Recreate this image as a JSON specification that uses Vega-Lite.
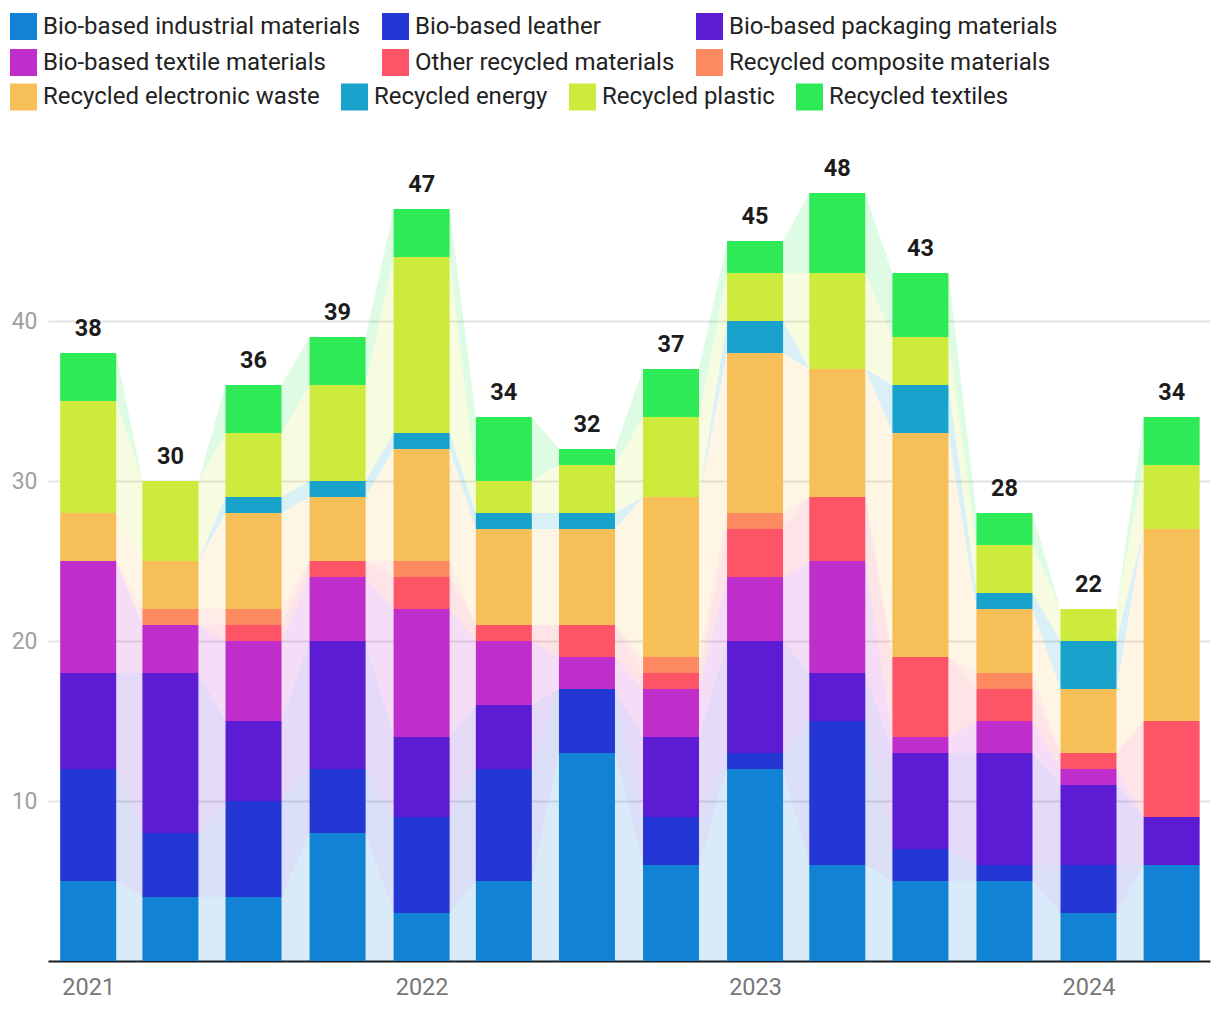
{
  "$schema": "https://vega.github.io/schema/vega-lite/v6.json",
  "width": 1162,
  "height": 768,
  "autosize": {"type": "none"},
  "padding": {"left": 48, "top": 193, "right": 10, "bottom": 57},
  "background": "white",
  "config": {"view": {"stroke": null}, "font": "Roboto"},
  "resolve": {"legend": {"color": "independent"}},
  "data": {"values": [
    {"date": "2021-01-01", "category": "Bio-based industrial materials", "value": 5},
    {"date": "2021-01-01", "category": "Bio-based leather", "value": 7},
    {"date": "2021-01-01", "category": "Bio-based packaging materials", "value": 6},
    {"date": "2021-01-01", "category": "Bio-based textile materials", "value": 7},
    {"date": "2021-01-01", "category": "Other recycled materials", "value": 0},
    {"date": "2021-01-01", "category": "Recycled composite materials", "value": 0},
    {"date": "2021-01-01", "category": "Recycled electronic waste", "value": 3},
    {"date": "2021-01-01", "category": "Recycled energy", "value": 0},
    {"date": "2021-01-01", "category": "Recycled plastic", "value": 7},
    {"date": "2021-01-01", "category": "Recycled textiles", "value": 3},
    {"date": "2021-04-01", "category": "Bio-based industrial materials", "value": 4},
    {"date": "2021-04-01", "category": "Bio-based leather", "value": 4},
    {"date": "2021-04-01", "category": "Bio-based packaging materials", "value": 10},
    {"date": "2021-04-01", "category": "Bio-based textile materials", "value": 3},
    {"date": "2021-04-01", "category": "Other recycled materials", "value": 0},
    {"date": "2021-04-01", "category": "Recycled composite materials", "value": 1},
    {"date": "2021-04-01", "category": "Recycled electronic waste", "value": 3},
    {"date": "2021-04-01", "category": "Recycled energy", "value": 0},
    {"date": "2021-04-01", "category": "Recycled plastic", "value": 5},
    {"date": "2021-04-01", "category": "Recycled textiles", "value": 0},
    {"date": "2021-07-01", "category": "Bio-based industrial materials", "value": 4},
    {"date": "2021-07-01", "category": "Bio-based leather", "value": 6},
    {"date": "2021-07-01", "category": "Bio-based packaging materials", "value": 5},
    {"date": "2021-07-01", "category": "Bio-based textile materials", "value": 5},
    {"date": "2021-07-01", "category": "Other recycled materials", "value": 1},
    {"date": "2021-07-01", "category": "Recycled composite materials", "value": 1},
    {"date": "2021-07-01", "category": "Recycled electronic waste", "value": 6},
    {"date": "2021-07-01", "category": "Recycled energy", "value": 1},
    {"date": "2021-07-01", "category": "Recycled plastic", "value": 4},
    {"date": "2021-07-01", "category": "Recycled textiles", "value": 3},
    {"date": "2021-10-01", "category": "Bio-based industrial materials", "value": 8},
    {"date": "2021-10-01", "category": "Bio-based leather", "value": 4},
    {"date": "2021-10-01", "category": "Bio-based packaging materials", "value": 8},
    {"date": "2021-10-01", "category": "Bio-based textile materials", "value": 4},
    {"date": "2021-10-01", "category": "Other recycled materials", "value": 1},
    {"date": "2021-10-01", "category": "Recycled composite materials", "value": 0},
    {"date": "2021-10-01", "category": "Recycled electronic waste", "value": 4},
    {"date": "2021-10-01", "category": "Recycled energy", "value": 1},
    {"date": "2021-10-01", "category": "Recycled plastic", "value": 6},
    {"date": "2021-10-01", "category": "Recycled textiles", "value": 3},
    {"date": "2022-01-01", "category": "Bio-based industrial materials", "value": 3},
    {"date": "2022-01-01", "category": "Bio-based leather", "value": 6},
    {"date": "2022-01-01", "category": "Bio-based packaging materials", "value": 5},
    {"date": "2022-01-01", "category": "Bio-based textile materials", "value": 8},
    {"date": "2022-01-01", "category": "Other recycled materials", "value": 2},
    {"date": "2022-01-01", "category": "Recycled composite materials", "value": 1},
    {"date": "2022-01-01", "category": "Recycled electronic waste", "value": 7},
    {"date": "2022-01-01", "category": "Recycled energy", "value": 1},
    {"date": "2022-01-01", "category": "Recycled plastic", "value": 11},
    {"date": "2022-01-01", "category": "Recycled textiles", "value": 3},
    {"date": "2022-04-01", "category": "Bio-based industrial materials", "value": 5},
    {"date": "2022-04-01", "category": "Bio-based leather", "value": 7},
    {"date": "2022-04-01", "category": "Bio-based packaging materials", "value": 4},
    {"date": "2022-04-01", "category": "Bio-based textile materials", "value": 4},
    {"date": "2022-04-01", "category": "Other recycled materials", "value": 1},
    {"date": "2022-04-01", "category": "Recycled composite materials", "value": 0},
    {"date": "2022-04-01", "category": "Recycled electronic waste", "value": 6},
    {"date": "2022-04-01", "category": "Recycled energy", "value": 1},
    {"date": "2022-04-01", "category": "Recycled plastic", "value": 2},
    {"date": "2022-04-01", "category": "Recycled textiles", "value": 4},
    {"date": "2022-07-01", "category": "Bio-based industrial materials", "value": 13},
    {"date": "2022-07-01", "category": "Bio-based leather", "value": 4},
    {"date": "2022-07-01", "category": "Bio-based packaging materials", "value": 0},
    {"date": "2022-07-01", "category": "Bio-based textile materials", "value": 2},
    {"date": "2022-07-01", "category": "Other recycled materials", "value": 2},
    {"date": "2022-07-01", "category": "Recycled composite materials", "value": 0},
    {"date": "2022-07-01", "category": "Recycled electronic waste", "value": 6},
    {"date": "2022-07-01", "category": "Recycled energy", "value": 1},
    {"date": "2022-07-01", "category": "Recycled plastic", "value": 3},
    {"date": "2022-07-01", "category": "Recycled textiles", "value": 1},
    {"date": "2022-10-01", "category": "Bio-based industrial materials", "value": 6},
    {"date": "2022-10-01", "category": "Bio-based leather", "value": 3},
    {"date": "2022-10-01", "category": "Bio-based packaging materials", "value": 5},
    {"date": "2022-10-01", "category": "Bio-based textile materials", "value": 3},
    {"date": "2022-10-01", "category": "Other recycled materials", "value": 1},
    {"date": "2022-10-01", "category": "Recycled composite materials", "value": 1},
    {"date": "2022-10-01", "category": "Recycled electronic waste", "value": 10},
    {"date": "2022-10-01", "category": "Recycled energy", "value": 0},
    {"date": "2022-10-01", "category": "Recycled plastic", "value": 5},
    {"date": "2022-10-01", "category": "Recycled textiles", "value": 3},
    {"date": "2023-01-01", "category": "Bio-based industrial materials", "value": 12},
    {"date": "2023-01-01", "category": "Bio-based leather", "value": 1},
    {"date": "2023-01-01", "category": "Bio-based packaging materials", "value": 7},
    {"date": "2023-01-01", "category": "Bio-based textile materials", "value": 4},
    {"date": "2023-01-01", "category": "Other recycled materials", "value": 3},
    {"date": "2023-01-01", "category": "Recycled composite materials", "value": 1},
    {"date": "2023-01-01", "category": "Recycled electronic waste", "value": 10},
    {"date": "2023-01-01", "category": "Recycled energy", "value": 2},
    {"date": "2023-01-01", "category": "Recycled plastic", "value": 3},
    {"date": "2023-01-01", "category": "Recycled textiles", "value": 2},
    {"date": "2023-04-01", "category": "Bio-based industrial materials", "value": 6},
    {"date": "2023-04-01", "category": "Bio-based leather", "value": 9},
    {"date": "2023-04-01", "category": "Bio-based packaging materials", "value": 3},
    {"date": "2023-04-01", "category": "Bio-based textile materials", "value": 7},
    {"date": "2023-04-01", "category": "Other recycled materials", "value": 4},
    {"date": "2023-04-01", "category": "Recycled composite materials", "value": 0},
    {"date": "2023-04-01", "category": "Recycled electronic waste", "value": 8},
    {"date": "2023-04-01", "category": "Recycled energy", "value": 0},
    {"date": "2023-04-01", "category": "Recycled plastic", "value": 6},
    {"date": "2023-04-01", "category": "Recycled textiles", "value": 5},
    {"date": "2023-07-01", "category": "Bio-based industrial materials", "value": 5},
    {"date": "2023-07-01", "category": "Bio-based leather", "value": 2},
    {"date": "2023-07-01", "category": "Bio-based packaging materials", "value": 6},
    {"date": "2023-07-01", "category": "Bio-based textile materials", "value": 1},
    {"date": "2023-07-01", "category": "Other recycled materials", "value": 5},
    {"date": "2023-07-01", "category": "Recycled composite materials", "value": 0},
    {"date": "2023-07-01", "category": "Recycled electronic waste", "value": 14},
    {"date": "2023-07-01", "category": "Recycled energy", "value": 3},
    {"date": "2023-07-01", "category": "Recycled plastic", "value": 3},
    {"date": "2023-07-01", "category": "Recycled textiles", "value": 4},
    {"date": "2023-10-01", "category": "Bio-based industrial materials", "value": 5},
    {"date": "2023-10-01", "category": "Bio-based leather", "value": 1},
    {"date": "2023-10-01", "category": "Bio-based packaging materials", "value": 7},
    {"date": "2023-10-01", "category": "Bio-based textile materials", "value": 2},
    {"date": "2023-10-01", "category": "Other recycled materials", "value": 2},
    {"date": "2023-10-01", "category": "Recycled composite materials", "value": 1},
    {"date": "2023-10-01", "category": "Recycled electronic waste", "value": 4},
    {"date": "2023-10-01", "category": "Recycled energy", "value": 1},
    {"date": "2023-10-01", "category": "Recycled plastic", "value": 3},
    {"date": "2023-10-01", "category": "Recycled textiles", "value": 2},
    {"date": "2024-01-01", "category": "Bio-based industrial materials", "value": 3},
    {"date": "2024-01-01", "category": "Bio-based leather", "value": 3},
    {"date": "2024-01-01", "category": "Bio-based packaging materials", "value": 5},
    {"date": "2024-01-01", "category": "Bio-based textile materials", "value": 1},
    {"date": "2024-01-01", "category": "Other recycled materials", "value": 1},
    {"date": "2024-01-01", "category": "Recycled composite materials", "value": 0},
    {"date": "2024-01-01", "category": "Recycled electronic waste", "value": 4},
    {"date": "2024-01-01", "category": "Recycled energy", "value": 3},
    {"date": "2024-01-01", "category": "Recycled plastic", "value": 2},
    {"date": "2024-01-01", "category": "Recycled textiles", "value": 0},
    {"date": "2024-04-01", "category": "Bio-based industrial materials", "value": 6},
    {"date": "2024-04-01", "category": "Bio-based leather", "value": 0},
    {"date": "2024-04-01", "category": "Bio-based packaging materials", "value": 3},
    {"date": "2024-04-01", "category": "Bio-based textile materials", "value": 0},
    {"date": "2024-04-01", "category": "Other recycled materials", "value": 6},
    {"date": "2024-04-01", "category": "Recycled composite materials", "value": 0},
    {"date": "2024-04-01", "category": "Recycled electronic waste", "value": 12},
    {"date": "2024-04-01", "category": "Recycled energy", "value": 0},
    {"date": "2024-04-01", "category": "Recycled plastic", "value": 4},
    {"date": "2024-04-01", "category": "Recycled textiles", "value": 3}
  ]},
  "layer": [
    {
      "transform": [
        {"fold": ["L", "R"], "as": ["edge", "unused"]},
        {"calculate": "time(datum.date) + (datum.edge == 'L' ? -1 : 1) * 2648160000", "as": "xe"}
      ],
      "mark": {"type": "area", "opacity": 0.16, "interpolate": "linear"},
      "encoding": {
        "x": {"field": "xe", "type": "temporal",
              "scale": {"type": "utc", "padding": 0, "domain": [{"year": 2020, "month": 11, "date": 18, "utc": true}, {"year": 2024, "month": 5, "date": 13, "utc": true}]},
              "axis": {"title": null, "format": "%Y", "tickCount": {"interval": "year", "step": 1}, "ticks": false, "grid": false,
                       "domainColor": "#1a1a1a", "domainWidth": 2, "labelFontSize": 23.5, "labelColor": "#777777", "labelPadding": 14, "labelFlush": false, "labelFont": "Roboto"}},
        "y": {"field": "value", "type": "quantitative", "stack": "zero",
              "scale": {"domain": [0, 48], "nice": false},
              "axis": {"title": null, "values": [10, 20, 30, 40], "domain": false, "ticks": false, "grid": true, "gridColor": "#e3e3e3", "gridWidth": 2,
                       "labelFontSize": 23, "labelColor": "#a0a0a0", "labelPadding": 11, "labelFont": "Roboto"}},
        "order": {"field": "category", "type": "nominal", "sort": "ascending"},
        "color": {"field": "category", "type": "nominal",
                  "scale": {"domain": ["Bio-based industrial materials", "Bio-based leather", "Bio-based packaging materials", "Bio-based textile materials", "Other recycled materials", "Recycled composite materials", "Recycled electronic waste", "Recycled energy", "Recycled plastic", "Recycled textiles"],
                            "range": ["#1283d4", "#2437d4", "#5b1cd3", "#bf2ecb", "#fe5468", "#fe8a62", "#f6bf57", "#18a2cc", "#cceb3d", "#2fea57"]},
                  "legend": {"orient": "none", "legendX": -38, "legendY": -109.5, "direction": "horizontal",
                             "values": ["Recycled electronic waste", "Recycled energy", "Recycled plastic", "Recycled textiles"],
                             "title": null, "symbolType": "square", "symbolSize": 729, "symbolStrokeWidth": 0, "symbolOpacity": 1,
                             "labelFontSize": 24, "labelColor": "#222222", "labelLimit": 600, "labelOffset": 6, "labelFont": "Roboto",
                             "columnPadding": 21, "rowPadding": 9, "padding": 0}}
      }
    },
    {
      "mark": {"type": "bar", "size": 56},
      "encoding": {
        "x": {"field": "date", "type": "temporal",
              "scale": {"type": "utc", "padding": 0, "domain": [{"year": 2020, "month": 11, "date": 18, "utc": true}, {"year": 2024, "month": 5, "date": 13, "utc": true}]},
              "axis": {"title": null, "format": "%Y", "tickCount": {"interval": "year", "step": 1}, "ticks": false, "grid": false,
                       "domainColor": "#1a1a1a", "domainWidth": 2, "labelFontSize": 23.5, "labelColor": "#777777", "labelPadding": 14, "labelFlush": false, "labelFont": "Roboto"}},
        "y": {"field": "value", "type": "quantitative", "stack": "zero",
              "scale": {"domain": [0, 48], "nice": false},
              "axis": {"title": null, "values": [10, 20, 30, 40], "domain": false, "ticks": false, "grid": true, "gridColor": "#e3e3e3", "gridWidth": 2,
                       "labelFontSize": 23, "labelColor": "#a0a0a0", "labelPadding": 11, "labelFont": "Roboto"}},
        "order": {"field": "category", "type": "nominal", "sort": "ascending"},
        "color": {"field": "category", "type": "nominal",
                  "scale": {"domain": ["Bio-based industrial materials", "Bio-based leather", "Bio-based packaging materials", "Bio-based textile materials", "Other recycled materials", "Recycled composite materials", "Recycled electronic waste", "Recycled energy", "Recycled plastic", "Recycled textiles"],
                            "range": ["#1283d4", "#2437d4", "#5b1cd3", "#bf2ecb", "#fe5468", "#fe8a62", "#f6bf57", "#18a2cc", "#cceb3d", "#2fea57"]},
                  "legend": {"orient": "none", "legendX": -38, "legendY": -180, "direction": "horizontal", "columns": 3,
                             "values": ["Bio-based industrial materials", "Bio-based leather", "Bio-based packaging materials", "Bio-based textile materials", "Other recycled materials", "Recycled composite materials"],
                             "title": null, "symbolType": "square", "symbolSize": 729, "symbolStrokeWidth": 0, "symbolOpacity": 1,
                             "labelFontSize": 24, "labelColor": "#222222", "labelLimit": 600, "labelOffset": 6, "labelFont": "Roboto",
                             "columnPadding": 21, "rowPadding": 9, "padding": 0}}
      }
    },
    {
      "transform": [{"aggregate": [{"op": "sum", "field": "value", "as": "total"}], "groupby": ["date"]}],
      "mark": {"type": "text", "fontSize": 23.5, "fontWeight": "bold", "color": "#1c1c1c", "baseline": "alphabetic", "align": "center", "dy": -17, "font": "Roboto"},
      "encoding": {
        "x": {"field": "date", "type": "temporal",
              "axis": {"title": null, "format": "%Y", "tickCount": {"interval": "year", "step": 1}, "ticks": false, "grid": false,
                       "domainColor": "#1a1a1a", "domainWidth": 2, "labelFontSize": 23.5, "labelColor": "#777777", "labelPadding": 14, "labelFlush": false, "labelFont": "Roboto"}},
        "y": {"field": "total", "type": "quantitative",
              "axis": {"title": null, "values": [10, 20, 30, 40], "domain": false, "ticks": false, "grid": true, "gridColor": "#e3e3e3", "gridWidth": 2,
                       "labelFontSize": 23, "labelColor": "#a0a0a0", "labelPadding": 11, "labelFont": "Roboto"}},
        "text": {"field": "total", "type": "quantitative"}
      }
    }
  ]
}
